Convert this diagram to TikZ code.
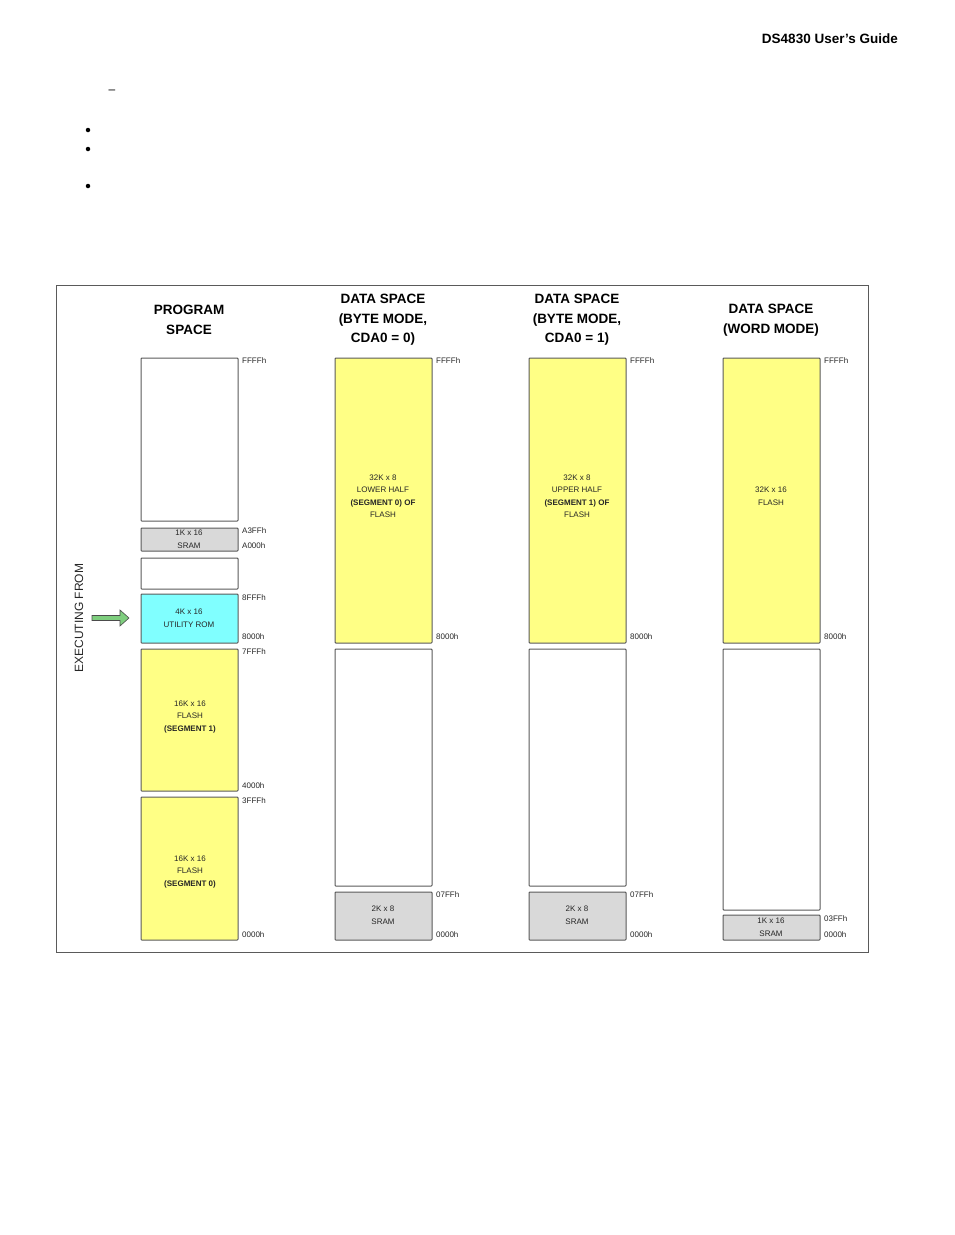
\documentclass[tikz,border=0pt]{standalone}
\usepackage{fontspec}
\setmainfont{Liberation Sans}
\usetikzlibrary{arrows.meta}
\definecolor{fy}{RGB}{255,255,133}
\definecolor{fc}{RGB}{128,255,255}
\definecolor{fg}{RGB}{217,217,217}
\definecolor{ed}{RGB}{90,90,90}
\tikzset{x=1pt,y=-1pt,
 mem/.style={draw=ed,line width=1pt,rounded corners=0.8pt},
 addr/.style={anchor=west,inner sep=0pt,font=\fontsize{8}{9}\selectfont,text=black!85},
 inl/.style={align=center,inner sep=0pt,font=\fontsize{8}{12.5}\selectfont,text=black!85},
 ttl/.style={align=center,inner sep=0pt,font=\bfseries\fontsize{13.5}{19.5}\selectfont}}
\begin{document}
\begin{tikzpicture}
\useasboundingbox (0,0) rectangle (954,1235);
\node[anchor=east,font=\bfseries\fontsize{13.5}{16}\selectfont,inner sep=0pt] (hdr) at (898,39) {DS4830 User’s Guide};
\node[inner sep=0pt,font=\fontsize{12}{14}\selectfont] (dash) at (112,92) {–};
\foreach \yy/\nm in {130/b1,149/b2,186/b3}{\node[circle,fill=black,inner sep=0pt,minimum size=4.5pt] (\nm) at (88,\yy) {};}
\draw[draw=ed,line width=1pt] (56,285) rectangle (868,952);
% titles
\node[ttl] (t1) at (189,320) {PROGRAM\\SPACE};
\node[ttl] (t2) at (383,320) {DATA SPACE\\(BYTE MODE,\\CDA0 = 0)};
\node[ttl] (t3) at (577,320) {DATA SPACE\\(BYTE MODE,\\CDA0 = 1)};
\node[ttl] (t4) at (771,320) {DATA SPACE\\(WORD MODE)};
% program
\draw[mem,fill=white] (141,358) rectangle (238,521);
\draw[mem,fill=fg] (141,528) rectangle (238,551);
\node[inl,font=\fontsize{8}{13}\selectfont] (p2) at (189,539.5) {1K x 16\\SRAM};
\draw[mem,fill=white] (141,558) rectangle (238,589);
\draw[mem,fill=fc] (141,594) rectangle (238,643);
\node[inl] (p4) at (189,618) {4K x 16\\UTILITY ROM};
\draw[mem,fill=fy] (141,649) rectangle (238,791);
\node[inl] (p5) at (190,717) {16K x 16\\FLASH\\\textbf{(SEGMENT 1)}};
\draw[mem,fill=fy] (141,797) rectangle (238,940);
\node[inl] (p6) at (190,872) {16K x 16\\FLASH\\\textbf{(SEGMENT 0)}};
\foreach \yy/\t in {361/FFFFh,531/A3FFh,546/A000h,598/8FFFh,637/8000h,652/7FFFh,786/4000h,801/3FFFh,935/0000h}
  \node[addr] at (242,\yy) {\t};
% data columns byte
\foreach \xx/\tx in {335/{32K x 8\\LOWER HALF\\\textbf{(SEGMENT 0) OF}\\FLASH},529/{32K x 8\\UPPER HALF\\\textbf{(SEGMENT 1) OF}\\FLASH}}{
  \draw[mem,fill=fy] (\xx,358) rectangle (\xx+97,643);
  \node[inl] at (\xx+48,496) {\tx};
  \draw[mem,fill=white] (\xx,649) rectangle (\xx+97,886);
  \draw[mem,fill=fg] (\xx,892) rectangle (\xx+97,940);
  \node[inl] at (\xx+48,915) {2K x 8\\SRAM};
  \foreach \yy/\t in {361/FFFFh,637/8000h,895/07FFh,935/0000h}
    \node[addr] at (\xx+101,\yy) {\t};
}
% word
\draw[mem,fill=fy] (723,358) rectangle (820,643);
\node[inl] (w1) at (771,496) {32K x 16\\FLASH};
\draw[mem,fill=white] (723,649) rectangle (820,910);
\draw[mem,fill=fg] (723,915) rectangle (820,940);
\node[inl,font=\fontsize{8}{13}\selectfont] (w3) at (771,927.5) {1K x 16\\SRAM};
\foreach \yy/\t in {361/FFFFh,637/8000h,919/03FFh,935/0000h}
  \node[addr] at (824,\yy) {\t};
% executing from
\node[rotate=90,inner sep=0pt,font=\fontsize{12}{14}\selectfont,text=black!85] (ex) at (79,618) {EXECUTING FROM};
\coordinate (as) at (92,618);
\coordinate (ae) at (130,618);
\draw[draw=black!70,fill=green!45!gray!70,line width=0.6pt]
 (92,615.5) -- (120,615.5) -- (120,610) -- (129,618) -- (120,626) -- (120,620.5) -- (92,620.5) -- cycle;
\end{tikzpicture}
\end{document}
